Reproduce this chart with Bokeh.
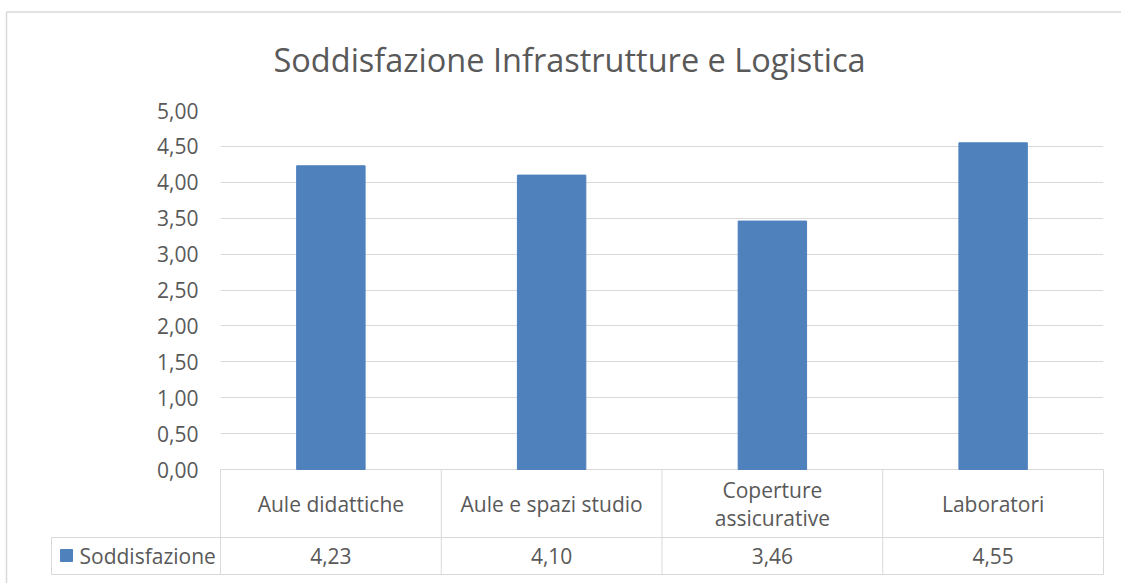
from bokeh.plotting import figure
from bokeh.models import Range1d, FixedTicker, CustomJSTickFormatter, ColumnDataSource
from bokeh.embed import file_html
from bokeh.resources import INLINE
from bokeh.core.properties import value

# ---- data ----
title_text = "Soddisfazione Infrastrutture e Logistica"
categories = ["Aule didattiche", "Aule e spazi studio", "Coperture\nassicurative", "Laboratori"]
series_name = "Soddisfazione"
values = [4.23, 4.10, 3.46, 4.55]
y_ticks = [0.0, 0.5, 1.0, 1.5, 2.0, 2.5, 3.0, 3.5, 4.0, 4.5, 5.0]

# ---- style / layout ----
FONT = "Open Sans"
TEXT = "#595959"
GRID = "#d9d9d9"
BAR = "#4f81bd"
LABEL_SIZE = "21px"

W, H = 1121, 583
F_LEFT, F_RIGHT, F_TOP, F_BOTTOM = 220, 1103, 110, 470   # plot frame in page px
ZERO_PX = 469
n = len(categories)
COL_PX = (F_RIGHT - F_LEFT) / n
Y_PX = (ZERO_PX - F_TOP) / y_ticks[-1]

def dx(px):   # page px -> x data
    return (px - F_LEFT) / COL_PX

def dy(py):   # page px -> y data
    return (ZERO_PX - py) / Y_PX

x_pos = [i + 0.5 for i in range(n)]
fmt = lambda v: f"{v:.2f}".replace(".", ",")

src = ColumnDataSource(dict(x=x_pos, top=values, cat=categories, lab=[fmt(v) for v in values]))

p = figure(width=W, height=H, x_range=Range1d(0, n),
           y_range=Range1d(dy(F_BOTTOM), y_ticks[-1]),
           output_backend="svg", toolbar_location=None, x_axis_location=None,
           min_border_left=F_LEFT, min_border_right=W - F_RIGHT,
           min_border_top=F_TOP, min_border_bottom=H - F_BOTTOM,
           title=title_text)
p.outline_line_color = None

p.title.align = "left"
p.title.offset = 53
p.title.standoff = 58
p.title.text_font = FONT
p.title.text_font_size = "32.5px"
p.title.text_font_style = "normal"
p.title.text_color = TEXT

ya = p.yaxis[0]
ya.ticker = FixedTicker(ticks=y_ticks)
ya.formatter = CustomJSTickFormatter(code="return tick.toFixed(2).replace('.', ',');")
ya.axis_line_color = None
ya.major_tick_line_color = None
ya.minor_tick_line_color = None
ya.major_tick_out = 0
ya.major_tick_in = 0
ya.major_label_standoff = 22
ya.major_label_text_font = FONT
ya.major_label_text_font_size = LABEL_SIZE
ya.major_label_text_color = TEXT

p.ygrid.grid_line_color = GRID
p.ygrid.grid_line_width = 1
p.xgrid.grid_line_color = None

p.vbar(x="x", top="top", width=0.31, source=src, fill_color=BAR, line_color=BAR)

# ---------- data table under the chart ----------
y_split = dy(537)
y_bot = dy(574)
x_leg = dx(51)
col_edges = list(range(n + 1))
p.segment(x0=col_edges, y0=[y_bot] * len(col_edges), x1=col_edges, y1=[0] * len(col_edges),
          line_color=GRID, line_width=1, level="overlay")
p.segment(x0=[x_leg, x_leg, x_leg], y0=[y_split, y_bot, y_bot], x1=[n, n, x_leg],
          y1=[y_split, y_bot, y_split], line_color=GRID, line_width=1, level="overlay")

head_mid = y_split / 2
val_mid = (y_split + y_bot) / 2
p.text(x="x", y=head_mid, text="cat", source=src, text_align="center", text_baseline="middle",
       text_font=value(FONT), text_font_size=LABEL_SIZE, text_color=TEXT, text_line_height=1.0,
       level="overlay")
p.text(x="x", y=val_mid, text="lab", source=src, text_align="center", text_baseline="middle",
       text_font=value(FONT), text_font_size=LABEL_SIZE, text_color=TEXT, level="overlay")

# legend key in the table (colour swatch + series name)
k0, k1 = dx(60), dx(72)
kb, kt = dy(561), dy(549)
p.patch(x=[k0, k1, k1, k0], y=[kb, kb, kt, kt], fill_color=BAR, line_color=BAR, level="overlay")
p.text(x=[dx(79)], y=[val_mid], text=[series_name], text_align="left", text_baseline="middle",
       text_font=value(FONT), text_font_size=LABEL_SIZE, text_color=TEXT, level="overlay")

# outer chart border (left and top edges visible)
p.segment(x0=[dx(6), dx(6)], y0=[dy(11.5), dy(11.5)], x1=[dx(6), dx(W + 20)], y1=[dy(H + 5), dy(11.5)],
          line_color=GRID, line_width=1.5, level="overlay")

open("out.html", "w").write(file_html(p, INLINE))
